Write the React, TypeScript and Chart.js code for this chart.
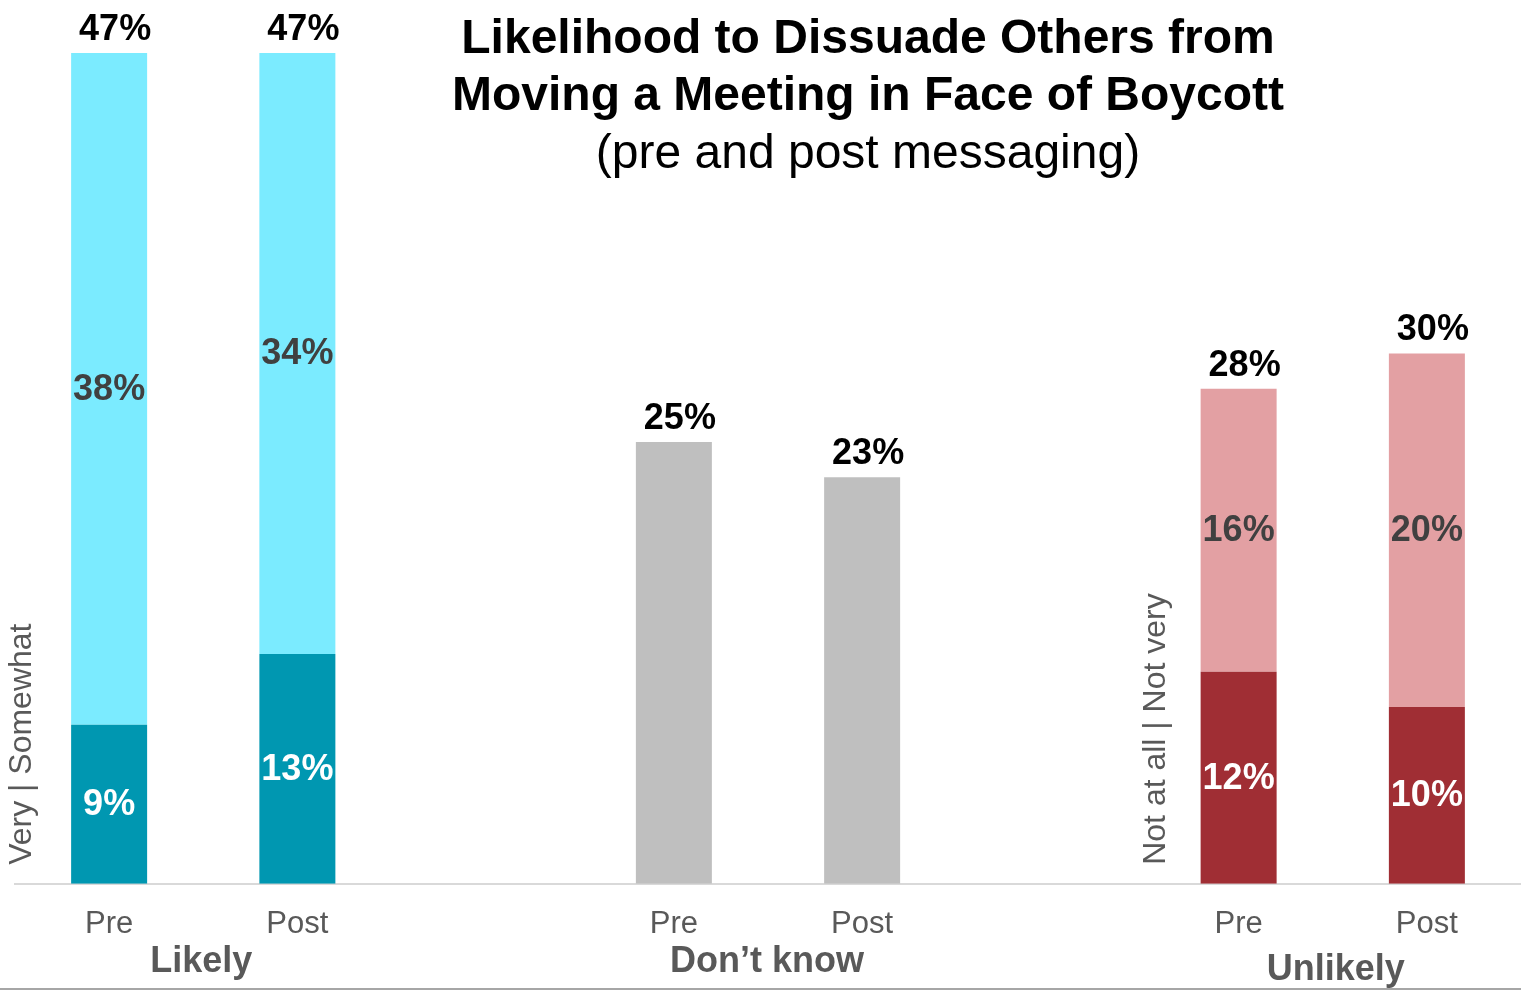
import React, { useEffect, useRef } from "react";
import { Chart, registerables } from "chart.js";

Chart.register(...registerables);

// ---- data ----
const categories = ["Pre", "Post", "", "Pre", "Post", "", "Pre", "Post"];
const groups = ["Likely", "Don\u2019t know", "Unlikely"];
const likelyVery = [9, 13];
const likelySomewhat = [38, 34];
const dontKnow = [25, 23];
const unlikelyNotAtAll = [12, 10];
const unlikelyNotVery = [16, 20];
const sideLabels = ["Very | Somewhat", "Not at all | Not very"];
const titleLines = ["Likelihood to Dissuade Others from", "Moving a Meeting in Face of Boycott"];
const subtitle = "(pre and post messaging)";

const N = null;
const place = (vals: number[], start: number) => {
  const arr: (number | null)[] = [N, N, N, N, N, N, N, N];
  vals.forEach((v, i) => (arr[start + i] = v));
  return arr;
};

const FONT = "'Liberation Sans', Arial, sans-serif";
const GRAY_TEXT = "#595959";

const overlay = {
  id: "overlay",
  afterDatasetsDraw(chart: any) {
    const ctx = chart.ctx;
    const x = chart.scales.x;
    const y = chart.scales.y;
    ctx.save();
    // segment labels
    chart.data.datasets.forEach((ds: any, di: number) => {
      const meta = chart.getDatasetMeta(di);
      if (!ds.showInside) return;
      meta.data.forEach((el: any, i: number) => {
        const v = ds.data[i];
        if (v == null) return;
        ctx.font = `bold 36px ${FONT}`;
        ctx.fillStyle = ds.labelColor;
        ctx.textAlign = "center";
        ctx.textBaseline = "middle";
        ctx.fillText(v + "%", el.x, (el.y + el.base) / 2 + 1);
      });
    });
    // totals
    for (let i = 0; i < categories.length; i++) {
      let total = 0;
      let any = false;
      chart.data.datasets.forEach((ds: any) => {
        const v = ds.data[i];
        if (v != null) {
          total += v;
          any = true;
        }
      });
      if (!any) continue;
      ctx.font = `bold 36px ${FONT}`;
      ctx.fillStyle = "#000000";
      ctx.textAlign = "center";
      ctx.textBaseline = "middle";
      ctx.fillText(total + "%", x.getPixelForValue(i) + 6, y.getPixelForValue(total) - 23);
    }
    // group labels
    const groupStarts = [0, 3, 6];
    const groupDy = [962, 962, 970];
    const groupDx = [-2, -1, 3];
    groups.forEach((g, gi) => {
      const s = groupStarts[gi];
      const cx = (x.getPixelForValue(s) + x.getPixelForValue(s + 1)) / 2 + groupDx[gi];
      ctx.font = `bold 36px ${FONT}`;
      ctx.fillStyle = GRAY_TEXT;
      ctx.textAlign = "center";
      ctx.textBaseline = "middle";
      ctx.fillText(g, cx, groupDy[gi]);
    });
    // rotated side labels
    const sideAt = [0, 6];
    const sideOff = [-87, -82];
    sideLabels.forEach((t, si) => {
      const px = x.getPixelForValue(sideAt[si]) + sideOff[si];
      ctx.save();
      ctx.translate(px, y.getPixelForValue(0) - 19);
      ctx.rotate(-Math.PI / 2);
      ctx.font = `32px ${FONT}`;
      ctx.fillStyle = GRAY_TEXT;
      ctx.textAlign = "left";
      ctx.textBaseline = "middle";
      ctx.fillText(t, 0, 0);
      ctx.restore();
    });
    // title
    ctx.fillStyle = "#000000";
    ctx.textAlign = "center";
    ctx.textBaseline = "middle";
    ctx.font = `bold 48px ${FONT}`;
    titleLines.forEach((l, li) => ctx.fillText(l, 868, 40 + li * 57));
    ctx.font = `48px ${FONT}`;
    ctx.fillText(subtitle, 868, 155);
    // bottom rule
    ctx.strokeStyle = "#A6A6A6";
    ctx.lineWidth = 2;
    ctx.beginPath();
    ctx.moveTo(0, 989);
    ctx.lineTo(chart.width, 989);
    ctx.stroke();
    ctx.restore();
  },
};

export default function App() {
  const ref = useRef<HTMLCanvasElement>(null);
  useEffect(() => {
    if (!ref.current) return;
    const chart = new Chart(ref.current, {
      type: "bar",
      data: {
        labels: categories,
        datasets: [
          { label: "Very likely", data: place(likelyVery, 0), backgroundColor: "#0097B1", showInside: true, labelColor: "#FFFFFF" } as any,
          { label: "Somewhat likely", data: place(likelySomewhat, 0), backgroundColor: "#7BEBFF", showInside: true, labelColor: "#404040" } as any,
          { label: "Don't know", data: place(dontKnow, 3), backgroundColor: "#BFBFBF", showInside: false } as any,
          { label: "Not at all likely", data: place(unlikelyNotAtAll, 6), backgroundColor: "#A02E34", showInside: true, labelColor: "#FFFFFF" } as any,
          { label: "Not very likely", data: place(unlikelyNotVery, 6), backgroundColor: "#E3A0A3", showInside: true, labelColor: "#404040" } as any,
        ],
      },
      options: {
        animation: false,
        responsive: true,
        maintainAspectRatio: false,
        layout: { padding: { left: 15, right: 0, top: 0, bottom: 30 } },
        datasets: { bar: { barPercentage: 1, categoryPercentage: 0.4037, borderWidth: 0 } },
        plugins: { legend: { display: false }, tooltip: { enabled: false }, title: { display: false } },
        scales: {
          x: {
            stacked: true,
            grid: { display: false, drawTicks: false },
            border: { display: true, color: "#D9D9D9", width: 2 },
            ticks: { font: { family: FONT, size: 31 }, color: GRAY_TEXT, padding: 22, maxRotation: 0, autoSkip: false },
          },
          y: { stacked: true, display: false, min: 0, max: 50 },
        },
      },
      plugins: [overlay],
    });
    return () => chart.destroy();
  }, []);
  return (
    <div style={{ position: "absolute", left: 0, top: 0, width: 1521, height: 995 }}>
      <canvas ref={ref} />
    </div>
  );
}
